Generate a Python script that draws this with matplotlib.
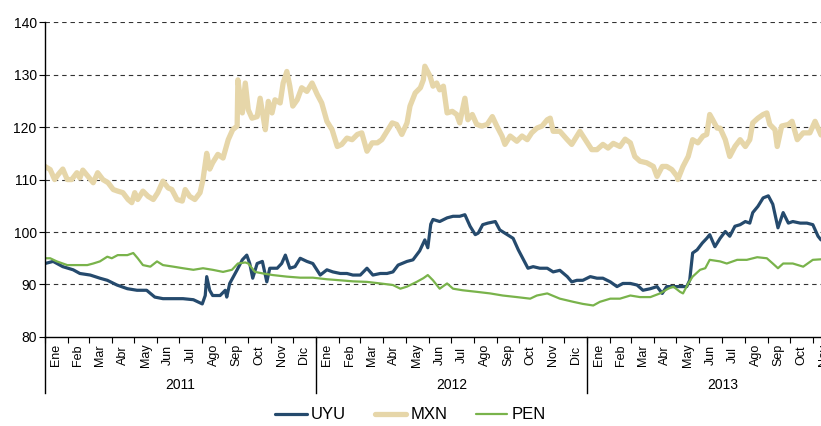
import numpy as np
import pandas as pd
import matplotlib
matplotlib.use("Agg")
import matplotlib.pyplot as plt
import matplotlib.transforms as mtransforms

plt.rcParams['font.family'] = ['Liberation Sans', 'DejaVu Sans']

# Observation dates are stored as days elapsed since 2011-01-01
base = pd.Timestamp('2011-01-01')

mxn_days = [0, 7, 13, 18, 24, 30, 36, 43, 47, 51, 58, 65, 71, 78, 85, 92, 98, 105, 112, 117,
            121, 125, 132, 139, 146, 152, 159, 166, 171, 178, 185, 189, 195, 202, 209, 213, 218, 222, 226, 233,
            240, 247, 253, 259, 260, 266, 270, 274, 279, 286, 290, 297, 301, 306, 310, 317, 321, 326, 330, 334,
            340, 346, 353, 360, 367, 373, 380, 387, 394, 400, 407, 414, 421, 427, 434, 441, 448, 454, 461, 468,
            474, 481, 488, 492, 499, 506, 510, 512, 519, 523, 528, 532, 537, 542, 549, 555, 559, 566, 570, 576,
            582, 589, 596, 603, 609, 616, 620, 627, 636, 643, 650, 656, 663, 670, 677, 681, 685, 694, 704, 710,
            717, 721, 731, 737, 744, 752, 759, 766, 775, 782, 789, 795, 802, 811, 820, 825, 832, 838, 845, 852,
            853, 860, 867, 873, 880, 887, 892, 896, 900, 906, 910, 917, 923, 930, 937, 944, 950, 954, 961, 968,
            973, 977, 984, 987, 993, 1002, 1007, 1014, 1022, 1031, 1038, 1046]
mxn_vals = [112.5, 111.9, 110.0, 111.0, 112.0, 110.0, 110.0, 111.3, 110.3, 111.8, 110.6, 109.4, 111.3, 110.0, 109.4, 108.1, 107.8, 107.5, 106.2, 105.6,
            107.5, 106.2, 107.8, 106.8, 106.2, 107.5, 109.7, 108.4, 108.1, 106.2, 105.9, 108.1, 106.8, 106.2, 107.5, 110.0, 115.0, 112.0, 113.2, 114.8,
            114.1, 117.6, 119.5, 120.2, 129.0, 122.7, 128.4, 123.3, 121.7, 122.0, 125.5, 119.5, 124.9, 122.7, 125.2, 124.6, 128.4, 130.6, 127.8, 124.0,
            125.2, 127.5, 126.8, 128.4, 126.2, 124.6, 121.1, 119.5, 116.3, 116.7, 117.9, 117.6, 118.6, 118.9, 115.4, 117.0, 117.0, 117.6, 119.2, 120.8,
            120.5, 118.6, 120.8, 124.0, 126.5, 127.5, 129.0, 131.6, 129.7, 127.8, 128.4, 127.1, 127.8, 122.7, 123.0, 122.4, 120.8, 125.5, 121.4, 122.4,
            120.5, 120.2, 120.5, 122.0, 120.2, 118.3, 116.7, 118.3, 117.3, 118.3, 117.6, 118.9, 119.8, 120.2, 121.4, 121.7, 119.2, 119.2, 117.6, 116.7,
            118.3, 119.2, 117.0, 115.7, 115.7, 116.7, 116.0, 116.9, 116.3, 117.7, 117.0, 114.4, 113.5, 113.2, 112.5, 110.6, 112.5, 112.5, 111.9, 110.6,
            110.0, 112.5, 114.4, 117.6, 117.0, 118.3, 118.6, 122.4, 121.4, 119.8, 119.8, 117.6, 114.4, 116.3, 117.6, 116.3, 117.6, 120.8, 121.7, 122.4,
            122.7, 120.5, 119.5, 116.3, 120.2, 120.5, 121.1, 117.6, 118.9, 118.9, 121.1, 118.5]

uyu_days = [0, 11, 24, 38, 47, 61, 74, 84, 97, 111, 124, 137, 148, 159, 173, 186, 200, 212, 216, 218,
            222, 226, 236, 243, 245, 249, 259, 266, 272, 276, 280, 286, 293, 299, 303, 313, 319, 324, 330, 337,
            344, 353, 361, 371, 380, 388, 398, 407, 415, 425, 434, 442, 452, 461, 469, 476, 488, 496, 505, 512,
            516, 520, 523, 532, 542, 550, 559, 566, 573, 580, 584, 590, 597, 607, 613, 623, 631, 638, 644, 651,
            658, 667, 677, 685, 694, 704, 710, 717, 725, 735, 744, 752, 762, 771, 779, 789, 798, 806, 816, 825,
            832, 838, 847, 856, 865, 869, 873, 879, 886, 892, 896, 903, 910, 917, 923, 930, 937, 944, 950, 954,
            961, 968, 975, 981, 988, 995, 1002, 1008, 1018, 1027, 1035, 1042, 1046]
uyu_vals = [94.0, 94.4, 93.4, 92.8, 92.1, 91.8, 91.2, 90.8, 89.9, 89.2, 88.9, 88.9, 87.6, 87.3, 87.3, 87.3, 87.1, 86.3, 87.9, 91.5,
            88.9, 87.9, 87.9, 88.9, 87.6, 90.2, 92.8, 94.7, 95.6, 94.0, 91.2, 94.0, 94.4, 90.5, 93.1, 93.1, 94.0, 95.6, 93.1, 93.4,
            95.0, 94.4, 94.0, 91.8, 92.8, 92.4, 92.1, 92.1, 91.8, 91.8, 93.1, 91.8, 92.1, 92.1, 92.4, 93.7, 94.4, 94.7, 96.4, 98.5,
            97.0, 101.5, 102.4, 102.0, 102.7, 103.0, 103.0, 103.3, 101.1, 99.5, 99.8, 101.4, 101.7, 102.0, 100.4, 99.5, 98.8, 96.6, 95.0, 93.1,
            93.4, 93.1, 93.1, 92.4, 92.7, 91.5, 90.5, 90.8, 90.8, 91.5, 91.2, 91.2, 90.5, 89.6, 90.2, 90.2, 89.9, 88.9, 89.2, 89.6,
            88.3, 89.6, 89.6, 89.6, 89.6, 90.8, 96.0, 96.6, 97.9, 98.8, 99.5, 97.2, 98.8, 100.1, 99.2, 101.1, 101.4, 102.0, 101.7, 103.7,
            104.9, 106.5, 106.9, 105.3, 100.8, 103.7, 101.7, 102.0, 101.7, 101.7, 101.4, 99.2, 98.5]

pen_days = [0, 7, 16, 30, 43, 57, 65, 74, 84, 90, 98, 111, 119, 125, 132, 142, 151, 159, 173, 186,
            200, 213, 226, 240, 252, 260, 270, 274, 283, 294, 307, 326, 344, 361, 380, 398, 415, 434, 452, 469,
            479, 488, 501, 510, 516, 523, 532, 542, 550, 563, 582, 600, 617, 636, 654, 663, 677, 694, 712, 725,
            739, 748, 762, 775, 789, 802, 816, 829, 840, 847, 856, 860, 867, 873, 883, 890, 896, 910, 919, 933,
            946, 960, 973, 981, 988, 995, 1008, 1022, 1035, 1046]
pen_vals = [95.0, 95.0, 94.4, 93.7, 93.7, 93.7, 94.0, 94.4, 95.3, 95.0, 95.6, 95.6, 96.0, 95.0, 93.7, 93.4, 94.4, 93.7, 93.4, 93.1,
            92.8, 93.1, 92.8, 92.4, 92.8, 94.0, 94.2, 94.0, 92.4, 92.1, 91.8, 91.5, 91.3, 91.3, 91.0, 90.8, 90.6, 90.5, 90.2, 89.9,
            89.2, 89.6, 90.5, 91.2, 91.8, 90.8, 89.2, 90.2, 89.2, 88.9, 88.6, 88.3, 87.9, 87.6, 87.3, 87.9, 88.3, 87.3, 86.7, 86.3,
            86.0, 86.7, 87.3, 87.3, 87.9, 87.6, 87.6, 88.3, 89.2, 89.6, 88.6, 88.3, 90.2, 91.5, 92.8, 93.1, 94.7, 94.4, 94.0, 94.7,
            94.7, 95.2, 95.0, 94.0, 93.1, 94.0, 94.0, 93.4, 94.7, 94.8]

series_names = ['UYU', 'MXN', 'PEN']
series_colors = ['#254a6d', '#e6d6a9', '#79b34b']
series_widths = [2.3, 3.8, 1.6]

month_names = ['Ene', 'Feb', 'Mar', 'Abr', 'May', 'Jun', 'Jul', 'Ago', 'Sep', 'Oct', 'Nov', 'Dic']
years = [2011, 2012, 2013]

y_ticks = [80, 90, 100, 110, 120, 130, 140]
x_end = 1046

fig = plt.figure(figsize=(8.21, 4.26), dpi=100)
ax = fig.add_axes([0.0548, 0.209, 1 - 0.0548, 0.948 - 0.209])

for days, vals, name, col, lw in zip([uyu_days, mxn_days, pen_days],
                                     [uyu_vals, mxn_vals, pen_vals],
                                     series_names, series_colors, series_widths):
    ax.plot(days, vals, color=col, lw=lw, label=name, solid_joinstyle='round',
            solid_capstyle='round')

ax.set_xlim(0, x_end)
ax.set_ylim(80, 140)
ax.set_yticks(y_ticks)
ax.tick_params(axis='y', labelsize=10, length=4, width=0.8, pad=2)
for v in y_ticks[1:]:
    ax.axhline(v, color='#333333', lw=0.8, ls=(0, (4, 3.5)), zorder=0)

for s in ['top', 'right']:
    ax.spines[s].set_visible(False)
ax.spines['left'].set_linewidth(1.0)
ax.spines['bottom'].set_linewidth(1.0)

# Month boundaries as ticks, month names centred within each month
month_starts = pd.date_range('2011-01-01', '2013-12-01', freq='MS')
start_days = [(d - base).days for d in month_starts]
ax.set_xticks([d for d in start_days if d <= x_end])
ax.set_xticklabels([])
ax.tick_params(axis='x', length=4, width=0.8, direction='out')

trans = mtransforms.blended_transform_factory(ax.transData, ax.transAxes)
for i in range(len(start_days) - 1):
    mid = 0.5 * (start_days[i] + start_days[i + 1])
    ax.text(mid, -0.057, month_names[month_starts[i].month - 1], transform=trans,
            rotation=90, ha='center', va='center', fontsize=9, clip_on=False)

# Year separators and year labels below the month names
for y in years:
    y0 = (pd.Timestamp(f'{y}-01-01') - base).days
    y1 = (pd.Timestamp(f'{y + 1}-01-01') - base).days
    ax.plot([y0, y0], [0, -0.178], transform=trans, color='black', lw=1.0,
            clip_on=False)
    ax.text(0.5 * (y0 + y1), -0.152, str(y), transform=trans, ha='center',
            va='center', fontsize=10, clip_on=False)

fig.legend(loc='center', bbox_to_anchor=(0.5, 0.026), ncol=3, frameon=False,
           fontsize=12, handlelength=1.9, handletextpad=0.25, columnspacing=1.7)

fig.savefig('out.png', dpi=100)
